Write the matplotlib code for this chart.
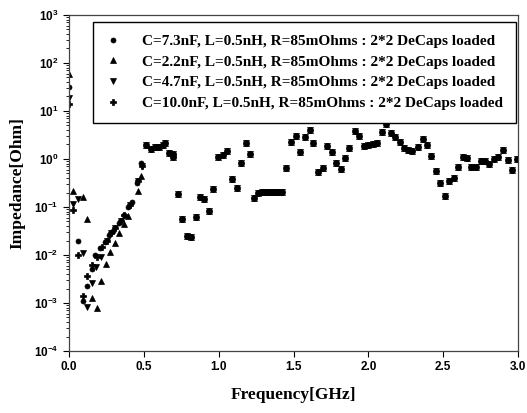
import matplotlib
matplotlib.use('Agg')
import matplotlib.pyplot as plt
import numpy as np

# Frequency [GHz] / impedance [Ohm]

# region above the first resonance, where all four curves coincide
freq_common = [0.512, 0.546, 0.574, 0.603, 0.630, 0.641, 0.670, 0.693, 0.697,
               0.728, 0.753, 0.790, 0.813, 0.846, 0.875, 0.904, 0.937, 0.964,
               0.997, 1.027, 1.057, 1.089, 1.120, 1.149, 1.180, 1.209, 1.238,
               1.265, 1.287, 1.309, 1.331, 1.354, 1.376, 1.398, 1.421, 1.450,
               1.483, 1.516, 1.543, 1.576, 1.610, 1.632, 1.661, 1.695, 1.721,
               1.755, 1.784, 1.815, 1.844, 1.872, 1.911, 1.939, 1.971, 1.999,
               2.029, 2.059, 2.089, 2.121, 2.148, 2.178, 2.211, 2.240, 2.267,
               2.293, 2.329, 2.363, 2.389, 2.418, 2.450, 2.478, 2.512, 2.540,
               2.572, 2.601, 2.630, 2.657, 2.685, 2.717, 2.750, 2.779, 2.808,
               2.839, 2.868, 2.901, 2.930, 2.961, 2.991]
z_common = [1.96, 1.62, 1.80, 1.80, 1.96, 2.12, 1.35, 1.27, 1.08,
            0.187, 0.055, 0.025, 0.024, 0.061, 0.159, 0.145, 0.084, 0.234,
            1.08, 1.19, 1.49, 0.389, 0.252, 0.84, 2.12, 1.27, 0.152,
            0.193, 0.202, 0.202, 0.202, 0.203, 0.204, 0.204, 0.205, 0.66,
            2.26, 3.01, 1.38, 2.91, 4.02, 2.12, 0.54, 0.66, 1.87,
            1.42, 0.84, 0.62, 1.03, 1.67, 3.83, 3.06, 1.87, 1.93,
            2.05, 2.19, 3.6, 5.4, 3.4, 2.83, 2.23, 1.67, 1.54,
            1.49, 1.80, 2.61, 1.96, 1.15, 0.56, 0.32, 0.17, 0.34,
            0.41, 0.67, 1.12, 1.03, 0.67, 0.67, 0.91, 0.91, 0.79,
            1.0, 1.12, 1.54, 0.95, 0.59, 0.99]

# C=7.3nF
freq_c73 = [0.0, 0.058, 0.091, 0.122, 0.151, 0.174, 0.207, 0.240, 0.269,
            0.296, 0.336, 0.367, 0.396, 0.419, 0.452, 0.481]
z_c73 = [32, 0.020, 0.0011, 0.0023, 0.0051, 0.0100, 0.014, 0.019, 0.026,
         0.032, 0.046, 0.068, 0.099, 0.129, 0.31, 0.81]

# C=2.2nF
freq_c22 = [0.0, 0.029, 0.091, 0.122, 0.156, 0.185, 0.214, 0.247, 0.274,
            0.307, 0.336, 0.364, 0.397, 0.458, 0.480]
z_c22 = [59, 0.215, 0.164, 0.056, 0.0013, 0.0008, 0.0029, 0.0065, 0.0115,
         0.018, 0.029, 0.044, 0.065, 0.21, 0.44]

# C=4.7nF
freq_c47 = [0.0, 0.027, 0.058, 0.091, 0.122, 0.154, 0.180, 0.212, 0.252,
            0.279, 0.307, 0.347, 0.407, 0.459, 0.486]
z_c47 = [19, 0.115, 0.145, 0.011, 0.00083, 0.0026, 0.0057, 0.0093, 0.020,
         0.029, 0.036, 0.052, 0.110, 0.35, 0.71]

# C=10.0nF
freq_c10 = [0.0, 0.029, 0.062, 0.091, 0.122, 0.151, 0.185, 0.218, 0.252,
            0.279, 0.307, 0.347, 0.367, 0.407, 0.459, 0.486]
z_c10 = [14, 0.087, 0.0098, 0.0014, 0.0037, 0.0062, 0.0092, 0.015, 0.020,
         0.029, 0.036, 0.052, 0.068, 0.110, 0.35, 0.71]

labels = [
    'C=7.3nF, L=0.5nH, R=85mOhms : 2*2 DeCaps loaded',
    'C=2.2nF, L=0.5nH, R=85mOhms : 2*2 DeCaps loaded',
    'C=4.7nF, L=0.5nH, R=85mOhms : 2*2 DeCaps loaded',
    'C=10.0nF, L=0.5nH, R=85mOhms : 2*2 DeCaps loaded',
]

plt.rcParams['font.family'] = ['Liberation Sans', 'DejaVu Sans']

fig = plt.figure(figsize=(5.27, 4.13), dpi=100)
ax = fig.add_axes([0.131, 0.150, 0.852, 0.814])

series = [
    (freq_c73, z_c73, 'o', 3.6),
    (freq_c22, z_c22, '^', 3.8),
    (freq_c47, z_c47, 'v', 3.8),
    (freq_c10, z_c10, 'P', 4.2),
]
for (f, z, m, ms), lab in zip(series, labels):
    ff = np.concatenate([f, freq_common])
    zz = np.concatenate([z, z_common])
    ax.plot(ff, zz, linestyle='none', marker=m, markersize=ms,
            color='black', markeredgewidth=0.5, label=lab)

ax.set_yscale('log')
ax.set_xlim(0, 3.0)
ax.set_ylim(1e-4, 1e3)
ax.set_xticks([0.0, 0.5, 1.0, 1.5, 2.0, 2.5, 3.0])
ax.set_xticklabels(['0.0', '0.5', '1.0', '1.5', '2.0', '2.5', '3.0'])
ax.tick_params(axis='both', which='major', direction='out', length=4,
               labelsize=8.5, width=0.8)
ax.tick_params(axis='y', which='minor', direction='out', length=2, width=0.6)
for lab in ax.get_xticklabels() + ax.get_yticklabels():
    lab.set_fontweight('bold')

for sp in ax.spines.values():
    sp.set_color('#444444')
    sp.set_linewidth(0.9)

ax.set_xlabel('Frequency[GHz]', fontsize=12.5, fontweight='bold',
              family='Liberation Serif', labelpad=10)
ax.set_ylabel('Impedance[Ohm]', fontsize=12.5, fontweight='bold',
              family='Liberation Serif', labelpad=6)

leg = ax.legend(loc='upper left', bbox_to_anchor=(0.053, 0.98),
                prop={'family': 'Liberation Serif', 'weight': 'bold', 'size': 11},
                frameon=True, fancybox=False, edgecolor='black', framealpha=1,
                handlelength=1.0, handletextpad=1.4, labelspacing=0.45,
                borderpad=0.85, borderaxespad=0)
leg.get_frame().set_linewidth(1.0)

fig.savefig('out.png', dpi=100)
